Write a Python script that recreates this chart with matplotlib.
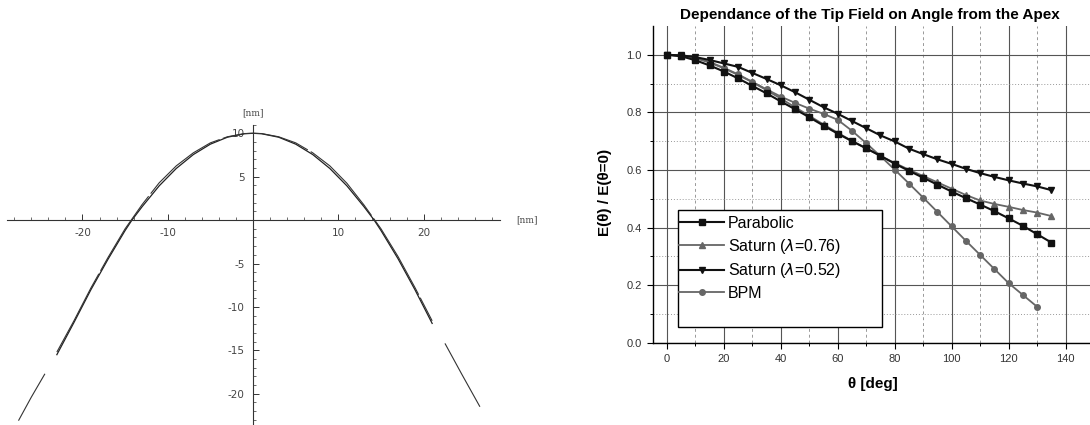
import numpy as np
import matplotlib
matplotlib.use('Agg')
import matplotlib.pyplot as plt
from matplotlib.patches import Rectangle
from matplotlib.ticker import FixedLocator, MultipleLocator

plt.rcParams['font.family'] = ['Liberation Sans', 'DejaVu Sans']
plt.rcParams['axes.unicode_minus'] = False

# left panel: tip profile [nm] and its fitted shape
tip_x = [-23, -21, -19, -17, -15, -14.2, -13, -11, -9, -7, -5, -3, -1, 0,
         1, 3, 5, 7, 9, 11, 13, 14.2, 15, 17, 19, 21]
tip_y = [-15.5, -11.8, -8.0, -4.5, -1.2, 0.0, 1.55, 3.95, 5.95, 7.55, 8.75, 9.55, 9.95, 10.0,
         9.95, 9.55, 8.75, 7.55, 5.95, 3.95, 1.55, 0.0, -1.2, -4.45, -8.05, -11.9]
fit_x = [-27.5, -26, -24.4, np.nan, -23, -21, -19, -17, -15, -13, -11, -9, -7, -5, -3, -1, 0,
         1, 3, 5, 7, 9, 11, 13, 15, 17, 19, 21, np.nan, 22.5, 24.5, 26.6]
fit_y = [-23.1, -20.4, -17.7, np.nan, -15.2, -11.6, -7.8, -4.3, -1.0, 1.8, 4.3, 6.25, 7.75, 8.9, 9.6, 9.97, 10.0,
         9.97, 9.6, 8.9, 7.75, 6.25, 4.25, 1.75, -1.0, -4.2, -7.8, -11.6, np.nan, -14.2, -17.8, -21.5]
xticks_left = [-20, -10, 10, 20]
yticks_left = [-20, -15, -10, -5, 5, 10]

# right panel: normalised tip field vs angle
theta = list(range(0, 140, 5))
theta_bpm = list(range(0, 135, 5))
parabolic = [1.0, 0.995, 0.981, 0.963, 0.942, 0.918, 0.892, 0.866, 0.838, 0.811, 0.783, 0.754, 0.726, 0.700,
             0.675, 0.649, 0.622, 0.597, 0.573, 0.549, 0.525, 0.502, 0.480, 0.457, 0.432, 0.406, 0.377, 0.348]
saturn_076 = [1.0, 0.997, 0.988, 0.973, 0.953, 0.930, 0.905, 0.877, 0.848, 0.818, 0.788, 0.758, 0.729, 0.701,
              0.675, 0.649, 0.624, 0.601, 0.579, 0.557, 0.535, 0.513, 0.494, 0.482, 0.472, 0.461, 0.452, 0.440]
saturn_052 = [1.0, 0.998, 0.992, 0.982, 0.970, 0.958, 0.937, 0.916, 0.894, 0.870, 0.844, 0.818, 0.795, 0.770,
              0.745, 0.720, 0.699, 0.674, 0.655, 0.637, 0.621, 0.604, 0.589, 0.576, 0.564, 0.553, 0.543, 0.530]
bpm = [1.0, 0.997, 0.990, 0.975, 0.955, 0.932, 0.906, 0.880, 0.855, 0.833, 0.813, 0.795, 0.774, 0.736,
       0.693, 0.648, 0.601, 0.553, 0.504, 0.454, 0.404, 0.354, 0.305, 0.256, 0.207, 0.166, 0.125]

fig = plt.figure(figsize=(10.9, 4.25), dpi=100)

# ---- left: Mathematica-style profile plot
ax1 = fig.add_axes([0.006, 0.0, 0.4523, 0.7068])
ax1.plot(tip_x, tip_y, color='#222222', lw=0.9)
ax1.plot(fit_x, fit_y, color='#333333', lw=0.8, linestyle=(0, (80, 3)))
ax1.set_xlim(-28.9, 28.9)
ax1.set_ylim(-23.6, 11.0)
for s in ['top', 'right']:
    ax1.spines[s].set_visible(False)
for s in ['left', 'bottom']:
    ax1.spines[s].set_position(('data', 0))
    ax1.spines[s].set_linewidth(0.8)
    ax1.spines[s].set_color('#333333')
ax1.xaxis.set_major_locator(FixedLocator(xticks_left))
ax1.xaxis.set_minor_locator(MultipleLocator(2))
ax1.yaxis.set_major_locator(FixedLocator(yticks_left))
ax1.yaxis.set_minor_locator(MultipleLocator(1))
ax1.set_xticklabels([str(v) for v in xticks_left], family='DejaVu Sans')
ax1.set_yticklabels([str(v) for v in yticks_left], family='DejaVu Sans')
ax1.tick_params(which='major', direction='in', length=4, width=0.7, color='#333333',
                labelsize=7.5, labelcolor='#444444', pad=6)
ax1.tick_params(which='minor', direction='in', length=2.5, width=0.6, color='#555555')
ax1.text(0, 11.8, '[nm]', ha='center', va='bottom', fontsize=6.5, family='DejaVu Serif',
         color='#444444', clip_on=False)
ax1.text(30.8, 0, '[nm]', ha='left', va='center', fontsize=6.5, family='DejaVu Serif',
         color='#444444', clip_on=False)

# ---- right: field vs angle
ax2 = fig.add_axes([0.5988, 0.1936, 0.4049, 0.7452])
ax2.set_axisbelow(True)
ax2.plot(theta, parabolic, color='#111111', lw=1.5, marker='s', ms=4.5, label='Parabolic', zorder=4)
ax2.plot(theta, saturn_076, color='#666666', lw=1.3, marker='^', ms=5, label=r'Saturn ($\lambda$=0.76)', zorder=3)
ax2.plot(theta, saturn_052, color='#111111', lw=1.5, marker='v', ms=5, label=r'Saturn ($\lambda$=0.52)', zorder=4)
ax2.plot(theta_bpm, bpm, color='#666666', lw=1.3, marker='o', ms=4, label='BPM', zorder=3)

ax2.set_xlim(-5, 150)
ax2.set_ylim(0, 1.1)
ax2.xaxis.set_major_locator(MultipleLocator(20))
ax2.xaxis.set_minor_locator(MultipleLocator(10))
ax2.yaxis.set_major_locator(FixedLocator([0, 0.2, 0.4, 0.6, 0.8, 1.0]))
ax2.yaxis.set_minor_locator(FixedLocator([0.1, 0.3, 0.5, 0.7, 0.9]))
ax2.set_xticks([0, 20, 40, 60, 80, 100, 120, 140])
ax2.set_yticklabels(['0.0', '0.2', '0.4', '0.6', '0.8', '1.0'])
ax2.grid(which='major', color='#555555', lw=0.8)
ax2.xaxis.grid(which='minor', color='#999999', lw=0.7, linestyle=(0, (3, 3)))
ax2.yaxis.grid(which='minor', color='#999999', lw=0.7, linestyle=(0, (1, 2)))
for s in ['top', 'right']:
    ax2.spines[s].set_visible(False)
for s in ['left', 'bottom']:
    ax2.spines[s].set_linewidth(1.0)
ax2.tick_params(which='major', direction='out', length=4, width=0.8, labelsize=8,
                labelcolor='#333333', pad=4)
ax2.tick_params(which='minor', direction='out', length=2.5, width=0.7)

ax2.set_xlabel('θ [deg]', fontsize=11, fontweight='bold')
ax2.xaxis.set_label_coords(0.499, -0.108)
ax2.set_ylabel('E(θ) / E(θ=0)', fontsize=11, fontweight='bold')
ax2.yaxis.set_label_coords(-0.092, 0.473)
ax2.text(0.4924, 1.035, 'Dependance of the Tip Field on Angle from the Apex', transform=ax2.transAxes,
         ha='center', va='center', fontsize=11, fontweight='bold')

ax2.add_patch(Rectangle((0.0567, 0.0505), 0.4623, 0.3685, transform=ax2.transAxes,
                        facecolor='white', edgecolor='black', lw=1.0, zorder=2))
leg = ax2.legend(loc='upper left', bbox_to_anchor=(0.0567, 0.405), frameon=False, fontsize=11.5,
                 handlelength=2.8, handletextpad=0.25, labelspacing=0.35, borderpad=0.1,
                 borderaxespad=0.0)
leg.set_zorder(6)

plt.savefig('out.png', dpi=100)
